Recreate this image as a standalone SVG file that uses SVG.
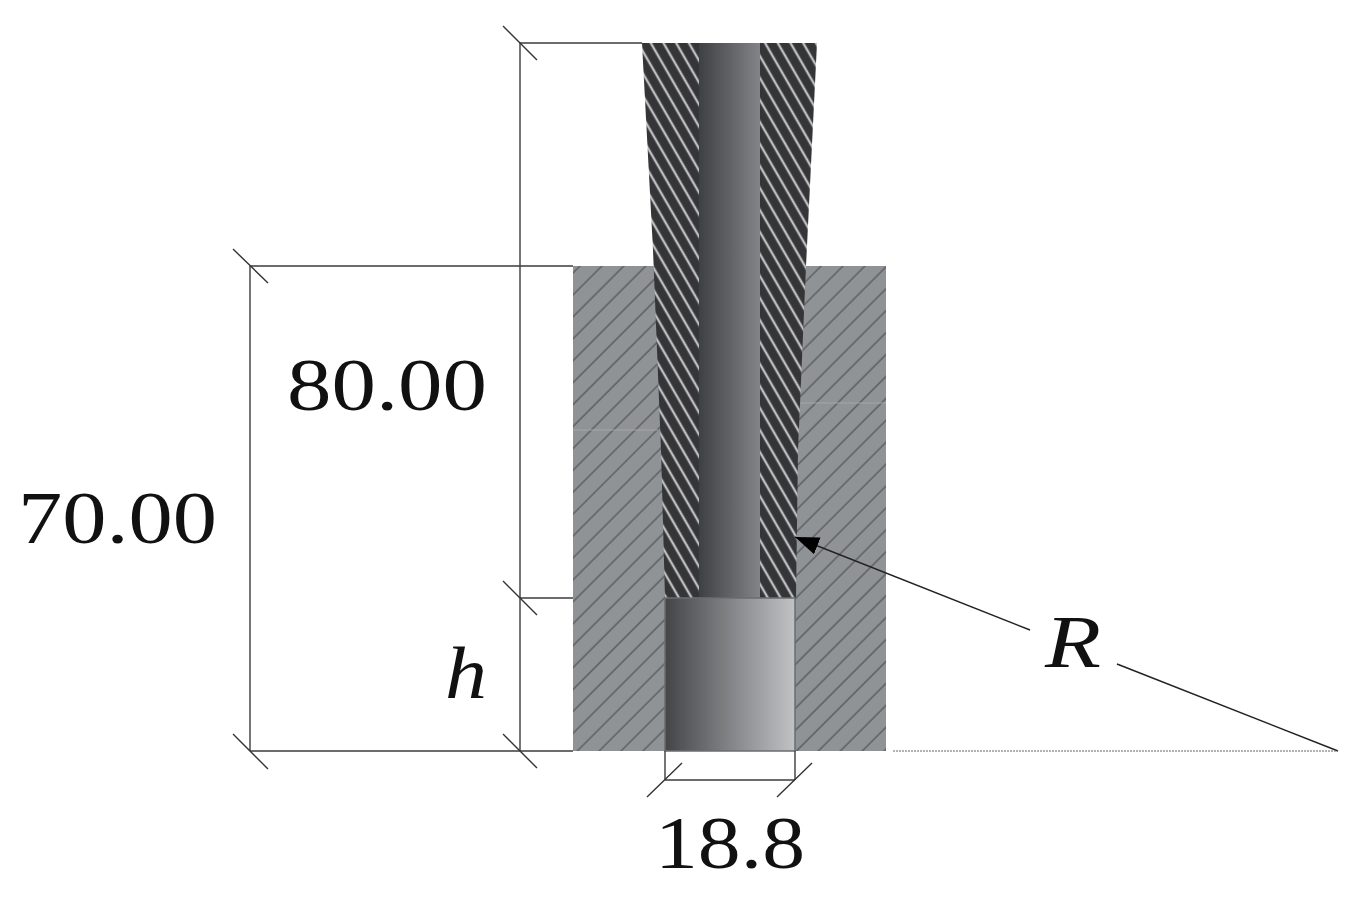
<svg xmlns="http://www.w3.org/2000/svg" width="1360" height="897" viewBox="0 0 1360 897">
<style>
.dim{fill:none;stroke:#3c3c3c;stroke-width:1.4}
.tick{fill:none;stroke:#333;stroke-width:1.4}
.lab{font-family:"Liberation Serif","DejaVu Serif",serif;fill:#111;font-size:75px}
.it{font-style:italic}
</style>
<defs>
<pattern id="lightHatch" width="15.5" height="20" patternUnits="userSpaceOnUse" patternTransform="translate(573 266) rotate(45)">
<rect width="15.5" height="20" fill="#909396"/>
<line x1="5" y1="0" x2="5" y2="20" stroke="#5f6266" stroke-width="1.6"/>
</pattern>
<pattern id="darkHatch" width="11" height="20" patternUnits="userSpaceOnUse" patternTransform="translate(645 43) rotate(-30)">
<rect width="11" height="20" fill="#343537"/>
<line x1="5" y1="0" x2="5" y2="20" stroke="#bcbec0" stroke-width="2.4"/>
</pattern>
<linearGradient id="core" x1="0" y1="0" x2="1" y2="0">
<stop offset="0" stop-color="#3f4043"/><stop offset="1" stop-color="#828487"/>
</linearGradient>
<linearGradient id="bore" x1="0" y1="0" x2="1" y2="0">
<stop offset="0" stop-color="#444548"/><stop offset="1" stop-color="#c0c2c4"/>
</linearGradient>
<marker id="arrow" markerWidth="26" markerHeight="20" refX="24" refY="9" orient="auto" markerUnits="userSpaceOnUse">
<path d="M0 0L24 9L0 18Z" fill="#000"/>
</marker>
<filter id="soft" x="-5%" y="-5%" width="110%" height="110%"><feGaussianBlur stdDeviation="0.6"/></filter>
</defs>
<g id="block" filter="url(#soft)">
<rect x="573" y="266" width="313" height="485" fill="url(#lightHatch)"/>
<line x1="800" y1="403" x2="886" y2="403" stroke="#a4a6a8" stroke-width="1"/>
<line x1="573" y1="430" x2="658" y2="430" stroke="#a4a6a8" stroke-width="1"/>
</g>
<g id="rod" filter="url(#soft)">
<path d="M642 43H817L806 266L798 450L796 598H665L661 450L653 250Z" fill="url(#darkHatch)"/>
<rect x="699" y="43" width="61" height="555" fill="url(#core)"/>
</g>
<g id="bore-section" filter="url(#soft)">
<rect x="665" y="598" width="130" height="153" fill="url(#bore)" stroke="#6a6c70" stroke-width="1.5"/>
</g>
<g id="connectors">
<path class="dim" d="M250 266H573M250 751H573M250 266V751M520 43H642M520 598H573M520 43V751M665 751V780M795 751V780M665 780H795"/>
<path class="tick" d="M233 249L268 283M233 734L268 769M503 26L537 60M503 581L537 615M503 734L537 768M647 797L682 763M777 797L812 763"/>
<line x1="1030" y1="630" x2="795" y2="537" stroke="#222" stroke-width="1.5" marker-end="url(#arrow)"/>
<line x1="1117" y1="664" x2="1338" y2="751" stroke="#222" stroke-width="1.5"/>
<line x1="893" y1="751" x2="1338" y2="751" stroke="#666" stroke-width="1.2" stroke-dasharray="2 1"/>
</g>
<g id="labels">
<text class="lab" x="287" y="410" textLength="200" lengthAdjust="spacingAndGlyphs">80.00</text>
<text class="lab" x="18" y="543" textLength="199" lengthAdjust="spacingAndGlyphs">70.00</text>
<text class="lab" x="655" y="868" textLength="150" lengthAdjust="spacingAndGlyphs">18.8</text>
<text class="lab it" x="445" y="698" textLength="42" lengthAdjust="spacingAndGlyphs">h</text>
<text class="lab it" x="1045" y="667" textLength="56" lengthAdjust="spacingAndGlyphs">R</text>
</g>
</svg>
